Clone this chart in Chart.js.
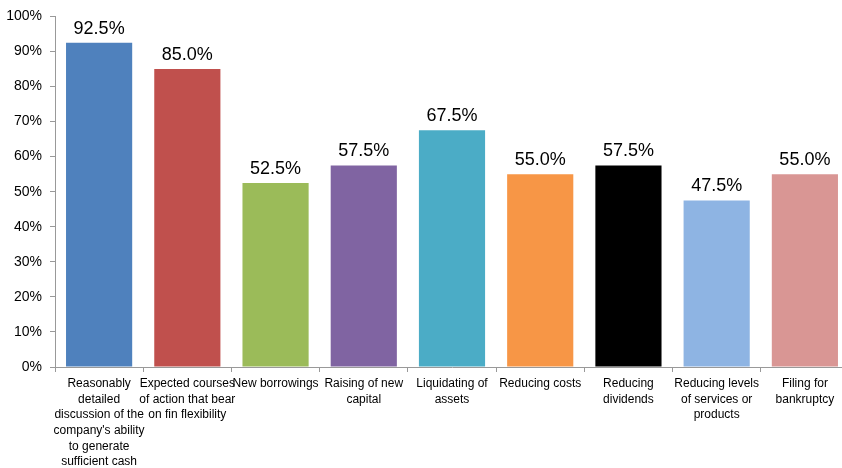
<!DOCTYPE html>
<html>
<head>
<meta charset="utf-8">
<script src="https://cdn.jsdelivr.net/npm/chart.js@4.4.1/dist/chart.umd.min.js"></script>
<style>
    html, body { margin: 0; padding: 0; background: #fff; overflow: hidden; }
    /* plot runs slightly past the right edge of the window, as in the reference */
    #wrap { width: 849px; height: 468px; position: relative; }
</style>
</head>
<body>
<div id="wrap"><canvas id="chart"></canvas></div>
<script>
const categories = [
    ['Reasonably', 'detailed', 'discussion of the', "company's ability", 'to generate', 'sufficient cash'],
    ['Expected courses', 'of action that bear', 'on fin flexibility'],
    ['New borrowings'],
    ['Raising of new', 'capital'],
    ['Liquidating of', 'assets'],
    ['Reducing costs'],
    ['Reducing', 'dividends'],
    ['Reducing levels', 'of services or', 'products'],
    ['Filing for', 'bankruptcy']
];
const values = [0.925, 0.85, 0.525, 0.575, 0.675, 0.55, 0.575, 0.475, 0.55];
const barColors = ['#4F81BD', '#C0504D', '#9BBB59', '#8064A2', '#4BACC6', '#F79646', '#000000', '#8EB4E3', '#D99694'];
const yTicks = [0, 0.1, 0.2, 0.3, 0.4, 0.5, 0.6, 0.7, 0.8, 0.9, 1.0];

const fontFamily = '"Liberation Sans", Arial, sans-serif';

// Draw the value above each bar
const valueLabels = {
    id: 'valueLabels',
    afterDatasetsDraw(chart) {
        const ctx = chart.ctx;
        const meta = chart.getDatasetMeta(0);
        ctx.save();
        ctx.font = '18px ' + fontFamily;
        ctx.fillStyle = '#000';
        ctx.textAlign = 'center';
        ctx.textBaseline = 'alphabetic';
        meta.data.forEach((bar, i) => {
            ctx.fillText((values[i] * 100).toFixed(1) + '%', bar.x, bar.y - 9);
        });
        ctx.restore();
    }
};

new Chart(document.getElementById('chart'), {
    type: 'bar',
    data: {
        labels: categories,
        datasets: [{
            data: values,
            backgroundColor: barColors,
            borderWidth: 0,
            barPercentage: 0.75,
            categoryPercentage: 1.0
        }]
    },
    options: {
        responsive: true,
        maintainAspectRatio: false,
        animation: false,
        layout: { padding: { top: 16, right: 0, left: 0, bottom: 0 } },
        plugins: {
            legend: { display: false },
            tooltip: { enabled: false }
        },
        scales: {
            x: {
                grid: {
                    display: true,
                    drawOnChartArea: false,
                    offset: true,
                    color: '#999',
                    tickLength: 5
                },
                border: { color: '#999', width: 1 },
                ticks: {
                    color: '#000',
                    maxRotation: 0,
                    autoSkip: false,
                    padding: 4,
                    font: { family: fontFamily, size: 12, lineHeight: 1.3 }
                },
                afterFit(scale) { scale.height = 101; }
            },
            y: {
                min: 0,
                max: 1,
                afterBuildTicks(scale) {
                    scale.ticks = yTicks.map(v => ({ value: v }));
                },
                grid: {
                    display: true,
                    drawOnChartArea: false,
                    color: '#999',
                    tickLength: 5
                },
                border: { color: '#999', width: 1 },
                ticks: {
                    color: '#000',
                    padding: 8,
                    font: { family: fontFamily, size: 14 },
                    callback: v => Math.round(v * 100) + '%'
                },
                afterFit(scale) { scale.width = 55; }
            }
        }
    },
    plugins: [valueLabels]
});
</script>
</body>
</html>
